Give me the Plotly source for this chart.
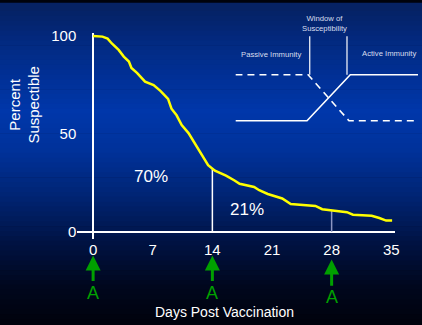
import plotly.graph_objects as go
import numpy as np

# ---- data ----
days = [0, 1.1, 1.7, 2.2, 3.0, 3.6, 4.2, 4.5, 5.15, 5.7, 6.1, 7.1, 7.9, 8.8, 9.2, 9.8,
        10.4, 11.2, 11.9, 12.7, 13.3, 13.5, 14.3, 15.6, 16.6, 17.2, 18.9, 19.5, 20.5,
        21.6, 22.2, 23.2, 24.3, 26.1, 26.9, 28.2, 29.8, 30.5, 32.7, 33.6, 34.4, 35.1]
pct_susceptible = [100, 99.7, 98.7, 96.2, 92.9, 89.5, 87, 83.7, 81.2, 78.7, 76.7, 74.9,
                   72, 67.9, 62.9, 59.5, 54.5, 50.4, 45.4, 40.4, 35.4, 34, 31.2, 28.7,
                   26.2, 24.5, 22.9, 21.2, 19.3, 17.9, 17, 14.2, 13.7, 13.2, 11.5, 10.9,
                   10, 8.7, 8.2, 7, 5.7, 5.7]
dose_days = [0, 14, 28]
dose_label = "A"
marker_days = [14, 28]
pct_labels = ["70%", "21%"]
pct_label_x = [6.8, 18.1]
pct_label_y = [28.4, 11.6]
x_ticks = [0, 7, 14, 21, 28, 35]
y_ticks = [0, 50, 100]

# inset schematic
passive_x = [0, 3.98, 6.22, 10]
passive_y = [1, 1, 0, 0]
active_x = [0, 3.92, 6.29, 10]
active_y = [0, 0, 1, 1]
window_x = [4.07, 6.11]
window_top = 1.84

W, H = 422, 325
FONT = "Arial, Liberation Sans, sans-serif"

fig = go.Figure()

# background gradient
stops = [(0.0, (6, 33, 98)), (0.12, (2, 42, 130)), (0.33, (0, 55, 170)),
         (0.45, (0, 50, 155)), (0.6, (0, 36, 115)), (0.75, (0, 18, 65)),
         (0.88, (0, 7, 30)), (1.0, (0, 2, 12))]
sf = [s[0] for s in stops]
shapes = []
n = 65
for i in range(n):
    t = (i + 0.5) / n
    c = [np.interp(t, sf, [s[1][k] for s in stops]) for k in range(3)]
    y_top = 1 - i / n + (0.01 if i == 0 else 0)
    y_bot = 1 - (i + 1) / n - 0.002
    shapes.append(dict(type="rect", xref="paper", yref="paper", x0=-0.01, x1=1.01,
                       y0=max(y_bot, -0.01), y1=y_top, layer="below", line=dict(width=0),
                       fillcolor="rgb(%d,%d,%d)" % tuple(int(round(v)) for v in c)))

# marker vertical lines at days 14, 28
line_colors = ["white", "rgb(140,150,195)"]
for d, col in zip(marker_days, line_colors):
    h = float(np.interp(d, days, pct_susceptible))
    fig.add_trace(go.Scatter(x=[d, d], y=[0, h], mode="lines",
                             line=dict(color=col, width=1.5), hoverinfo="skip",
                             showlegend=False))

# main curve
fig.add_trace(go.Scatter(x=days, y=pct_susceptible, mode="lines",
                         line=dict(color="#ffff00", width=2.5), showlegend=False))

# inset traces
fig.add_trace(go.Scatter(x=passive_x, y=passive_y, mode="lines", xaxis="x2", yaxis="y2",
                         line=dict(color="white", width=1.6, dash="7px,5px"),
                         showlegend=False))
fig.add_trace(go.Scatter(x=active_x, y=active_y, mode="lines", xaxis="x2", yaxis="y2",
                         line=dict(color="white", width=1.6), showlegend=False))
for wx in window_x:
    fig.add_trace(go.Scatter(x=[wx, wx], y=[1, window_top], mode="lines", xaxis="x2",
                             yaxis="y2", line=dict(color="white", width=1.2),
                             showlegend=False))

annotations = []
# percent labels
for t, x, y in zip(pct_labels, pct_label_x, pct_label_y):
    annotations.append(dict(x=x, y=y, xref="x", yref="y", text=t, showarrow=False,
                            xanchor="center", yanchor="middle",
                            font=dict(family=FONT, size=17, color="white")))

# dose arrows
arrow_drop = {28: 4}
for d in dose_days:
    dy = arrow_drop.get(d, 0)
    annotations.append(dict(x=d, xref="x", yref="paper", y=(H - 255 - dy) / H,
                            ax=0, ay=37 + dy * 0.2, text=dose_label, showarrow=True,
                            arrowhead=2, arrowsize=1, arrowwidth=3,
                            arrowcolor="rgb(0,160,0)", standoff=0,
                            font=dict(family=FONT, size=18, color="rgb(0,160,0)")))

# titles
annotations.append(dict(x=25 / W, y=(H - 101) / H, xref="paper", yref="paper",
                        xanchor="center", yanchor="middle",
                        text="Percent<br>Suspectible", textangle=-90, showarrow=False,
                        font=dict(family=FONT, size=15, color="white")))
annotations.append(dict(x=227 / W, y=(H - 313) / H, xref="paper", yref="paper",
                        xanchor="center", yanchor="middle",
                        text="Days Post Vaccination", showarrow=False,
                        font=dict(family=FONT, size=14, color="white")))

# inset labels
inset_font = dict(family=FONT, size=7.7, color="rgb(215,222,238)")
for txt, ix, iy in [("Window of<br>Susceptibility", 4.9, 2.11),
                    ("Passive Immunity", 1.96, 1.447),
                    ("Active Immunity", 8.4, 1.468)]:
    annotations.append(dict(x=ix, y=iy, xref="x2", yref="y2", text=txt,
                            xanchor="center", yanchor="middle",
                            showarrow=False, font=inset_font))

fig.update_layout(
    width=W, height=H,
    margin=dict(l=0, r=0, t=0, b=0),
    paper_bgcolor="rgb(0,2,12)",
    plot_bgcolor="rgba(0,0,0,0)",
    shapes=shapes,
    annotations=annotations,
    showlegend=False,
    xaxis=dict(domain=[78 / W, 399 / W], range=[(78 - 94) / 8.6, (399 - 94) / 8.6],
               tickvals=x_ticks, showgrid=False, showline=False, zeroline=True,
               zerolinecolor="white", zerolinewidth=2, ticks="",
               tickfont=dict(family=FONT, size=15, color="white"), fixedrange=True),
    yaxis=dict(domain=[(H - 238) / H, (H - 28) / H],
               range=[(230.7 - 238) / 2, (230.7 - 28) / 2],
               tickvals=y_ticks, showgrid=False, showline=False, zeroline=True,
               zerolinecolor="white", zerolinewidth=2, ticks="",
               tickfont=dict(family=FONT, size=15, color="white"), fixedrange=True),
    xaxis2=dict(domain=[237.7 / W, 1.0], range=[0, 10], anchor="y2", visible=False),
    yaxis2=dict(domain=[(H - 130) / H, 1.0], range=[(117.3 - 130) / 47, 117.3 / 47],
                anchor="x2", visible=False),
)

post = (
    "document.documentElement.style.margin='0';"
    "document.documentElement.style.padding='0';"
    "document.documentElement.style.background='rgb(0,2,12)';"
    "document.body.style.margin='0';document.body.style.padding='0';"
    "document.body.style.overflow='hidden';"
    "var d=document.getElementById('{plot_id}');"
    "d.style.position='absolute';d.style.top='0px';d.style.left='0px';"
)
fig.write_html("out.html", config={"displayModeBar": False}, post_script=post)
